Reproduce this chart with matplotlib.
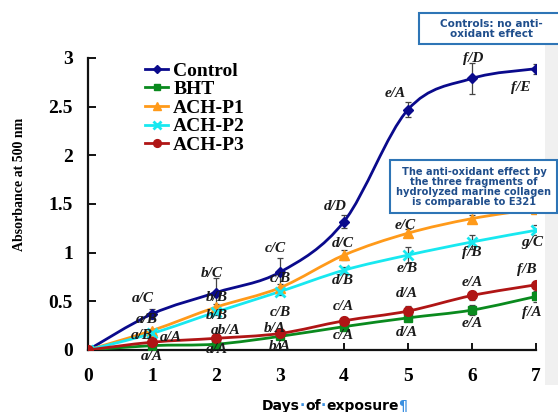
import numpy as np
import matplotlib
matplotlib.use("Agg")
import matplotlib.pyplot as plt
from matplotlib.path import Path
from matplotlib.patches import PathPatch, Rectangle
from matplotlib.lines import Line2D

plt.rcParams['font.family'] = ['Liberation Serif', 'DejaVu Serif']

# days of exposure
days = [0, 1, 2, 3, 4, 5, 6, 7]

# absorbance at 500 nm
control = [0, 0.37, 0.59, 0.80, 1.32, 2.47, 2.79, 2.89]
bht = [0, 0.045, 0.06, 0.14, 0.24, 0.33, 0.41, 0.55]
ach_p1 = [0, 0.20, 0.44, 0.64, 0.975, 1.20, 1.35, 1.45]
ach_p2 = [0, 0.17, 0.39, 0.60, 0.82, 0.975, 1.11, 1.23]
ach_p3 = [0, 0.08, 0.12, 0.17, 0.30, 0.40, 0.56, 0.67]

# standard deviations
control_err = [0, 0.05, 0.15, 0.15, 0.07, 0.08, 0.16, 0.05]
bht_err = [0, 0.02, 0.02, 0.03, 0.03, 0.03, 0.05, 0.06]
ach_p1_err = [0, 0.02, 0.03, 0.04, 0.05, 0.04, 0.04, 0.04]
ach_p2_err = [0, 0.02, 0.03, 0.04, 0.03, 0.08, 0.07, 0.05]
ach_p3_err = [0, 0.02, 0.02, 0.03, 0.04, 0.05, 0.05, 0.04]

# significance letters (day 1..7), None = hidden
control_lab = ["a/C", "b/C", "c/C", "d/D", "e/A", "f/D", "f/E"]
bht_lab = ["a/A", "a/A", "b/A", "c/A", "d/A", "e/A", "f/A"]
ach_p1_lab = ["a/B", "b/B", "c/B", "d/C", "e/C", None, None]
ach_p2_lab = ["a/B", "b/B", "c/B", "d/B", "e/B", "f/B", "g/C"]
ach_p3_lab = ["a/A", "ab/A", "b/A", "c/A", "d/A", "e/A", "f/B"]

# label offsets in pixels
control_off = [(-9, 15), (-4, 19), (-5, 24), (-9, 15), (-13, 16), (1, 20), (-15, -19)]
bht_off = [(0, -11), (1, -5), (0, -10), (-1, -9), (-1, -15), (0, -13), (-4, -16)]
ach_p1_off = [(-5, 11), (1, 10), (0, 9), (-1, 12), (-3, 8), (0, 0), (0, 0)]
ach_p2_off = [(-10, -2), (1, -3), (0, -21), (-1, -10), (-1, -13), (0, -11), (-4, -12)]
ach_p3_off = [(19, 5), (10, 8), (-5, 5), (-1, 14), (-1, 18), (0, 13), (-9, 15)]


def smooth_path(x, y):
    verts = [(x[0], y[0])]
    codes = [Path.MOVETO]
    n = len(x)
    for i in range(n - 1):
        p0 = max(i - 1, 0)
        p3 = min(i + 2, n - 1)
        c1 = (x[i] + (x[i + 1] - x[p0]) / 6, y[i] + (y[i + 1] - y[p0]) / 6)
        c2 = (x[i + 1] - (x[p3] - x[i]) / 6, y[i + 1] - (y[p3] - y[i]) / 6)
        verts += [c1, c2, (x[i + 1], y[i + 1])]
        codes += [Path.CURVE4] * 3
    return Path(verts, codes)


fig = plt.figure(figsize=(5.58, 4.12), dpi=100)
ax = fig.add_axes([88 / 558, 62 / 412, 448 / 558, 292 / 412])

series = [
    ("Control", control, control_err, control_lab, control_off, "#0a0a8c", "D", 5),
    ("BHT", bht, bht_err, bht_lab, bht_off, "#0a8a1e", "s", 6),
    ("ACH-P1", ach_p1, ach_p1_err, ach_p1_lab, ach_p1_off, "#ff9a1a", "^", 6.5),
    ("ACH-P2", ach_p2, ach_p2_err, ach_p2_lab, ach_p2_off, "#18e8f0", "x", 7),
    ("ACH-P3", ach_p3, ach_p3_err, ach_p3_lab, ach_p3_off, "#b01515", "o", 7),
]

handles = []
for name, vals, err, labs, offs, col, mk, ms in series:
    ax.add_patch(PathPatch(smooth_path(days, vals), fill=False, edgecolor=col, lw=2, zorder=3))
    ax.errorbar(days[1:], vals[1:], yerr=err[1:], fmt='none', ecolor='#444444',
                elinewidth=0.9, capsize=2.5, capthick=0.9, zorder=2)
    ax.plot(days, vals, ls='none', marker=mk, color=col, ms=ms, mew=2 if mk == 'x' else 1,
            zorder=4)
    for d, v, lab, off in zip(days[1:], vals[1:], labs, offs):
        if lab is None:
            continue
        ax.annotate(lab, (d, v), xytext=off, textcoords='offset pixels', ha='center',
                    va='center', fontsize=11, fontweight='bold', fontstyle='italic',
                    color='#1a1a1a', zorder=5)
    handles.append(Line2D([], [], color=col, lw=2, marker=mk, ms=ms * 0.8,
                          mew=2 if mk == 'x' else 1))

ax.set_xlim(0, 7)
ax.set_ylim(0, 3)
ax.set_xticks(range(0, 8))
ax.set_yticks([0, 0.5, 1, 1.5, 2, 2.5, 3])
ax.set_yticklabels(["0", "0.5", "1", "1.5", "2", "2.5", "3"])
for s in ['top', 'right']:
    ax.spines[s].set_visible(False)
for s in ['left', 'bottom']:
    ax.spines[s].set_linewidth(1.6)
    ax.spines[s].set_color('#111111')
ax.tick_params(axis='x', direction='in', length=5, width=1.3, pad=13, labelsize=14)
ax.tick_params(axis='y', direction='in', length=6, width=1.3, pad=11, labelsize=14)
for t in ax.get_xticklabels() + ax.get_yticklabels():
    t.set_fontweight('bold')
ax.patch.set_alpha(0)

fig.text(20 / 558, 1 - 184 / 412, "Absorbance at 500 nm", rotation=90, ha='center',
         va='center', fontsize=10, fontweight='bold')

ax.legend(handles, [s[0] for s in series], loc='upper left',
          bbox_to_anchor=(145 / 558, 1 - 62 / 412), bbox_transform=fig.transFigure,
          frameon=False, prop={'weight': 'bold', 'size': 14},
          handlelength=1.2, handletextpad=0.25, labelspacing=0.05, borderpad=0,
          borderaxespad=0)

# light gray strip on the right
fig.add_artist(Rectangle((545 / 558, 1 - 385 / 412), 13 / 558, 340 / 412,
                         transform=fig.transFigure, facecolor='#f0f0f0',
                         edgecolor='none', zorder=-1))

# note boxes
box_col = '#2e75b6'
txt_col = '#1f4e8c'
fig.add_artist(Rectangle((419 / 558, 1 - 44 / 412), 145 / 558, 31 / 412,
                         transform=fig.transFigure, facecolor='white',
                         edgecolor=box_col, lw=1.5, zorder=10))
fig.text(491 / 558, 1 - 29 / 412, "Controls: no anti-\noxidant effect", ha='center',
         va='center', family='DejaVu Sans', fontweight='bold', fontsize=7.5,
         color=txt_col, linespacing=1.05, zorder=11)
fig.add_artist(Rectangle((390 / 558, 1 - 213 / 412), 167 / 558, 53 / 412,
                         transform=fig.transFigure, facecolor='white',
                         edgecolor=box_col, lw=1.5, zorder=10))
fig.text(474 / 558, 1 - 187 / 412,
         "The anti-oxidant effect by\nthe three fragments of\nhydrolyzed marine collagen\nis comparable to E321",
         ha='center', va='center', family='DejaVu Sans', fontweight='bold', fontsize=7.1,
         color=txt_col, linespacing=1.02, zorder=11)

# x label with word-processor marks
renderer = fig.canvas.get_renderer()
pieces = [("Days", 'black'), ("\u00b7", '#3a8fe0'), ("of", 'black'), ("\u00b7", '#3a8fe0'),
          ("exposure", 'black'), ("\u00b6", '#3a8fe0')]
x = 262 / 558
for txt, col in pieces:
    t = fig.text(x, 1 - 410 / 412, txt, ha='left', va='baseline', family='DejaVu Sans',
                 fontweight='bold', fontsize=10, color=col)
    bb = t.get_window_extent(renderer)
    x += bb.width / fig.bbox.width

fig.savefig("out.png", dpi=100)
